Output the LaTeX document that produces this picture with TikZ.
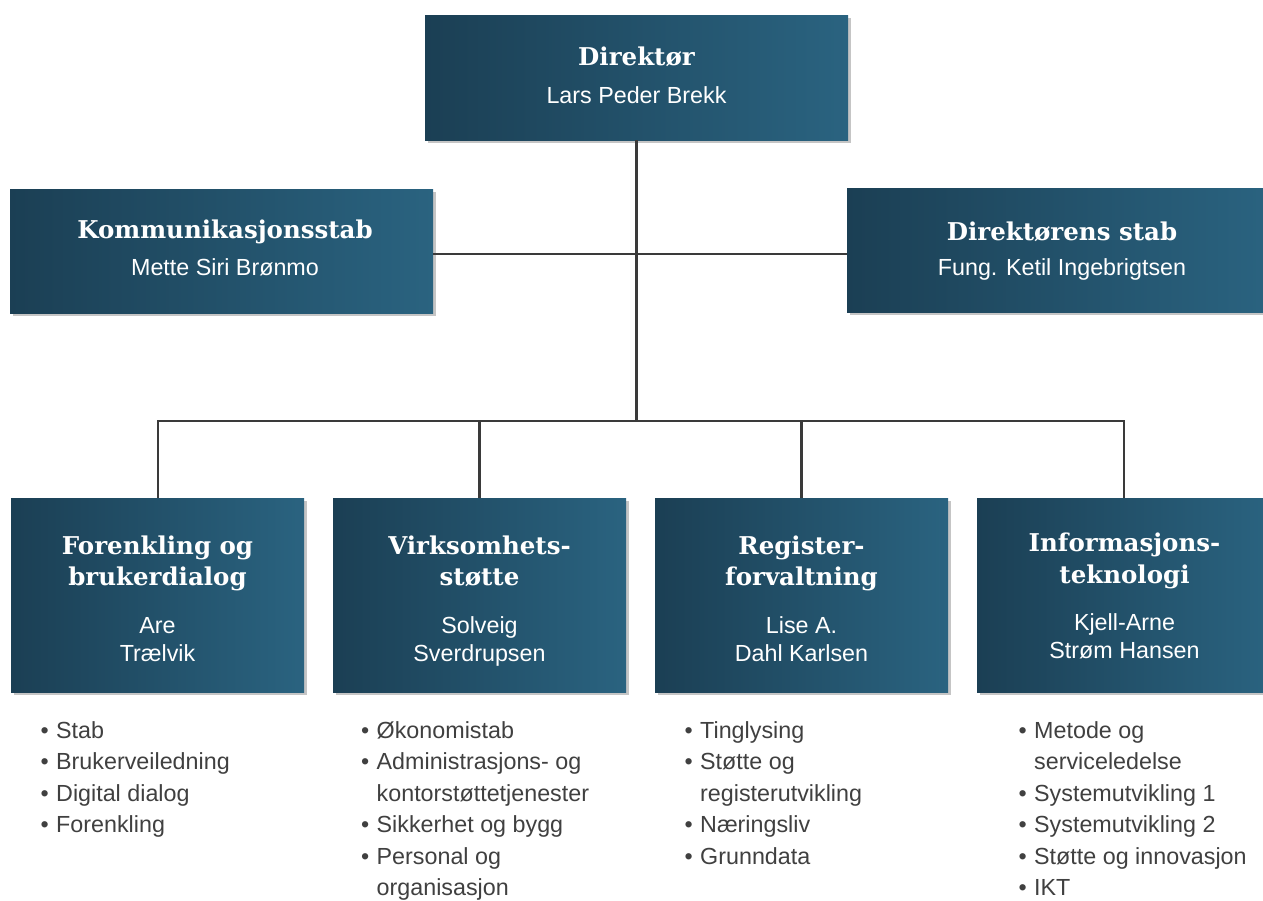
\documentclass[tikz,border=0pt]{standalone}
\usepackage{fontspec}
\setmainfont{Liberation Sans}
\newfontfamily\titlefont{DejaVu Serif}
\usetikzlibrary{shadows}
\definecolor{boxL}{RGB}{27,63,84}
\definecolor{boxR}{RGB}{42,99,128}
\definecolor{linec}{RGB}{58,58,58}
\definecolor{listc}{RGB}{64,64,64}
\newcommand\bl{\makebox[15.5pt][l]{\textbullet}}
\newcommand\ind{\hspace*{15.5pt}}
\tikzset{
  orgbox/.style={rectangle, inner sep=0pt, left color=boxL, right color=boxR,
    drop shadow={shadow xshift=3pt, shadow yshift=-3pt, opacity=0.45}},
  topbox/.style={orgbox, minimum width=423pt, minimum height=124pt},
  lowbox/.style={orgbox, minimum width=293pt, minimum height=194pt},
  titletext/.style={text=white, inner sep=0pt, anchor=base, font=\titlefont\bfseries\fontsize{24.5}{31.5}\selectfont},
  nametext/.style={text=white, inner sep=0pt, anchor=base, font=\fontsize{23.3}{28.5}\selectfont},
  listtext/.style={text=listc, inner sep=0pt, anchor=base west, font=\fontsize{23.3}{31.4}\selectfont},
  conn/.style={draw=linec, line width=2.5pt}
}
\begin{document}
\begin{tikzpicture}[x=1pt,y=-1pt]
\useasboundingbox (0,0) rectangle (1263,900);
\fill[white] (0,0) rectangle (1263,900);

% boxes
\node[topbox, minimum height=125pt] (dir) at (636.5,77.5) {};
\node[topbox] (komm) at (221.5,251) {};
\node[topbox] (dstab) at (1058.5,250) {};
\node[lowbox] (b1) at (157.5,595) {};
\node[lowbox] (b2) at (479.5,595) {};
\node[lowbox] (b3) at (801.5,595) {};
\node[lowbox] (b4) at (1123.5,595) {};

% connectors
\coordinate (hub) at (636.5,421);
\coordinate (mid) at (636.5,254);
\draw[conn] (dir.south) -- (hub);
\draw[conn, line width=2pt] (komm.east |- mid) -- (dstab.west |- mid);
\draw[conn, line width=2pt] (b1.north) |- (b4.north |- hub) -- (b4.north);
\draw[conn] (b2.north) -- (b2.north |- hub);
\draw[conn] (b3.north) -- (b3.north |- hub);

% texts of top boxes
\node[titletext] (dirT) at (636.5,65) {Direktør};
\node[nametext] (dirN) at (636.5,103) {Lars Peder Brekk};
\node[titletext] (kommT) at (225,238) {Kommunikasjonsstab};
\node[nametext] (kommN) at (225,275) {Mette Siri Brønmo};
\node[titletext] (dstabT) at (1062,240) {Direktørens stab};
\node[nametext] (dstabN) at (1062,275) {Fung. Ketil Ingebrigtsen};

% texts of lower boxes
\node[titletext] (b1T) at (157.5,554) {\begin{tabular}[t]{@{}c@{}}Forenkling og\\brukerdialog\end{tabular}};
\node[nametext] (b1N) at (157.5,633) {\begin{tabular}[t]{@{}c@{}}Are\\Trælvik\end{tabular}};
\node[titletext] (b2T) at (479.5,554) {\begin{tabular}[t]{@{}c@{}}Virksomhets-\\støtte\end{tabular}};
\node[nametext] (b2N) at (479.5,633) {\begin{tabular}[t]{@{}c@{}}Solveig\\Sverdrupsen\end{tabular}};
\node[titletext] (b3T) at (801.5,554) {\begin{tabular}[t]{@{}c@{}}Register-\\forvaltning\end{tabular}};
\node[nametext] (b3N) at (801.5,633) {\begin{tabular}[t]{@{}c@{}}Lise A.\\Dahl Karlsen\end{tabular}};
\node[titletext] (b4T) at (1124.5,551.5) {\begin{tabular}[t]{@{}c@{}}Informasjons-\\teknologi\end{tabular}};
\node[nametext] (b4N) at (1124.5,630) {\begin{tabular}[t]{@{}c@{}}Kjell-Arne\\Strøm Hansen\end{tabular}};

% lists
\node[listtext] (l1) at (40.5,738.5) {\begin{tabular}[t]{@{}l@{}}\bl Stab\\\bl Brukerveiledning\\\bl Digital dialog\\\bl Forenkling\end{tabular}};
\node[listtext] (l2) at (361,738.5) {\begin{tabular}[t]{@{}l@{}}\bl Økonomistab\\\bl Administrasjons- og\\\ind kontorstøttetjenester\\\bl Sikkerhet og bygg\\\bl Personal og\\\ind organisasjon\end{tabular}};
\node[listtext] (l3) at (684.5,738.5) {\begin{tabular}[t]{@{}l@{}}\bl Tinglysing\\\bl Støtte og\\\ind registerutvikling\\\bl Næringsliv\\\bl Grunndata\end{tabular}};
\node[listtext] (l4) at (1018.5,738.5) {\begin{tabular}[t]{@{}l@{}}\bl Metode og\\\ind serviceledelse\\\bl Systemutvikling 1\\\bl Systemutvikling 2\\\bl Støtte og innovasjon\\\bl IKT\end{tabular}};
\end{tikzpicture}
\end{document}
